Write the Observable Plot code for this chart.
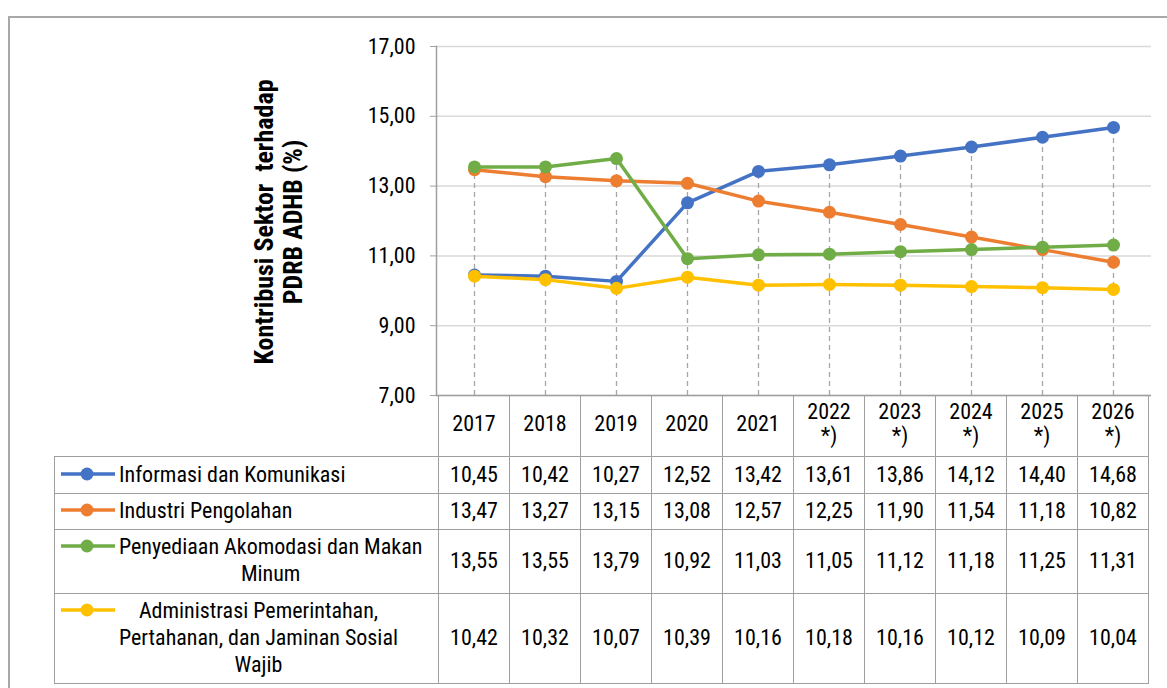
<!DOCTYPE html>
<html><head><meta charset="utf-8">
<script src="https://cdn.jsdelivr.net/npm/d3@7"></script>
<script src="https://cdn.jsdelivr.net/npm/@observablehq/plot@0.6"></script>
<style>
body{margin:0;background:#fff;}
#wrap{position:relative;width:1167px;height:688px;overflow:hidden;background:#fff;
  font-family:"Liberation Sans Narrow","Arial Narrow","Roboto Condensed","Liberation Sans",sans-serif;color:#000;}
#wrap svg.chart{position:absolute;left:0;top:0;}
.ln{position:absolute;background:#9f9f9f;}
.cell{position:absolute;display:flex;align-items:center;justify-content:center;text-align:center;font-size:22px;line-height:24px;}
.leg{position:absolute;font-size:22px;line-height:27px;text-align:center;white-space:nowrap;}
</style></head><body><div id="wrap"></div>
<script>
// ---- data ----
const years = ["2017","2018","2019","2020","2021","2022","2023","2024","2025","2026"];
const yearNotes = ["","","","","","*)","*)","*)","*)","*)"];
const seriesNames = ["Informasi dan Komunikasi","Industri Pengolahan","Penyediaan Akomodasi dan Makan Minum","Administrasi Pemerintahan, Pertahanan, dan Jaminan Sosial Wajib"];
const legendLines = [["Informasi dan Komunikasi"],["Industri Pengolahan"],["Penyediaan Akomodasi dan Makan","Minum"],["Administrasi Pemerintahan,","Pertahanan, dan Jaminan Sosial","Wajib"]];
const seriesColors = ["#4472C4","#ED7D31","#70AD47","#FFC000"];
const informasiKomunikasi = [10.45,10.42,10.27,12.52,13.42,13.61,13.86,14.12,14.40,14.68];
const industriPengolahan = [13.47,13.27,13.15,13.08,12.57,12.25,11.90,11.54,11.18,10.82];
const akomodasiMakanMinum = [13.55,13.55,13.79,10.92,11.03,11.05,11.12,11.18,11.25,11.31];
const administrasiPemerintahan = [10.42,10.32,10.07,10.39,10.16,10.18,10.16,10.12,10.09,10.04];
const yTicks = [7,9,11,13,15,17];
const yTitle = "Kontribusi Sektor\u00a0 terhadap\nPDRB ADHB (%)";

const seriesValues = [informasiKomunikasi, industriPengolahan, akomodasiMakanMinum, administrasiPemerintahan];
const fmt = d => d3.format(".2f")(d).replace(".", ",");

const rows = seriesNames.map((s, i) => years.map((y, j) => ({series: s, year: y, value: seriesValues[i][j]})));
const drops = years.map((y, j) => ({year: y, value: d3.max(seriesValues, v => v[j])}));

const FONT = '"Liberation Sans Narrow","Arial Narrow","Roboto Condensed","Liberation Sans",sans-serif';

const marks = [
  Plot.gridY(yTicks, {stroke: "#d9d9d9", strokeOpacity: 1, strokeWidth: 1.5}),
  Plot.ruleX(drops, {x: "year", y1: 7, y2: "value", stroke: "#a6a6a6", strokeWidth: 1.3, strokeDasharray: "5,4"}),
  Plot.frame({anchor: "left", stroke: "#a0a0a0", strokeWidth: 1.5}),
  Plot.ruleY([7], {stroke: "#a0a0a0", strokeWidth: 1.5}),
  Plot.axisY(yTicks, {tickSize: 6, tickPadding: 15, tickFormat: fmt, stroke: "#a0a0a0", label: null, fontSize: 22}),
  Plot.text([yTitle], {frameAnchor: "left", textAnchor: "middle", lineAnchor: "middle", rotate: -90, dx: -158, dy: 1,
    fontWeight: "bold", fontSize: 26, lineHeight: 1.1, fill: "#000"})
];
rows.forEach((r, i) => {
  marks.push(Plot.line(r, {x: "year", y: "value", stroke: seriesColors[i], strokeWidth: 3.5}));
  marks.push(Plot.dot(r, {x: "year", y: "value", fill: seriesColors[i], r: 6.5}));
});

const plot = Plot.plot({
  width: 1167, height: 396,
  marginTop: 46, marginBottom: 1, marginLeft: 436, marginRight: 16,
  x: {type: "point", domain: years, padding: 0.5, axis: null},
  y: {domain: [7, 17], axis: null},
  style: {fontFamily: FONT, fontSize: "22px", background: "transparent", overflow: "visible", color: "#000"},
  marks
});
plot.classList.add("chart");
const wrap = document.getElementById("wrap");
wrap.appendChild(plot);

// ---- data table under the chart, aligned on the plot's x scale ----
const xs = plot.scale("x");
const step = xs.step !== undefined ? xs.step : (xs.apply(years[1]) - xs.apply(years[0]));
const colLeft = years.map(y => xs.apply(y) - step / 2);
const tableRight = colLeft[colLeft.length - 1] + step;
const tableLeft = colLeft[0];
const legendLeft = 54;
const rowEdges = [395, 456, 493, 529, 593, 683];

function line(x, y, w, h) {
  const d = document.createElement("div");
  d.className = "ln";
  Object.assign(d.style, {left: x + "px", top: y + "px", width: w + "px", height: h + "px"});
  wrap.appendChild(d);
}
rowEdges.forEach((y, k) => {
  const x0 = k === 0 ? tableLeft : legendLeft;
  line(x0, y - 0.5, tableRight - x0, 1.3);
});
colLeft.concat([tableRight]).forEach(x => line(x - 0.5, rowEdges[0], 1.3, rowEdges[5] - rowEdges[0]));
line(legendLeft - 0.5, rowEdges[1], 1.3, rowEdges[5] - rowEdges[1]);

function cell(x, y, w, h, html) {
  const d = document.createElement("div");
  d.className = "cell";
  Object.assign(d.style, {left: x + "px", top: y + "px", width: w + "px", height: h + "px"});
  d.innerHTML = html;
  wrap.appendChild(d);
}
years.forEach((y, j) => {
  cell(colLeft[j], rowEdges[0], step, rowEdges[1] - rowEdges[0] - 3, yearNotes[j] ? y + "<br>" + yearNotes[j] : y);
});
seriesValues.forEach((vals, i) => {
  vals.forEach((v, j) => cell(colLeft[j], rowEdges[i + 1], step, rowEdges[i + 2] - rowEdges[i + 1], fmt(v)));
});
const markerY = [474, 510, 546, 610];
seriesNames.forEach((s, i) => {
  const ns = "http://www.w3.org/2000/svg";
  const svg = document.createElementNS(ns, "svg");
  svg.setAttribute("width", 60); svg.setAttribute("height", 20);
  Object.assign(svg.style, {position: "absolute", left: "58px", top: (markerY[i] - 10) + "px"});
  const l = document.createElementNS(ns, "line");
  l.setAttribute("x1", 3); l.setAttribute("x2", 57); l.setAttribute("y1", 10); l.setAttribute("y2", 10);
  l.setAttribute("stroke", seriesColors[i]); l.setAttribute("stroke-width", 3.5);
  const c = document.createElementNS(ns, "circle");
  c.setAttribute("cx", 29); c.setAttribute("cy", 10); c.setAttribute("r", 6.5); c.setAttribute("fill", seriesColors[i]);
  svg.appendChild(l); svg.appendChild(c);
  wrap.appendChild(svg);
  const t = document.createElement("div");
  t.className = "leg";
  Object.assign(t.style, {left: "119px", top: (markerY[i] - 13.5) + "px"});
  t.innerHTML = legendLines[i].join("<br>");
  wrap.appendChild(t);
});

const bl = document.createElement("div");
Object.assign(bl.style, {position: "absolute", left: "8px", top: "16px", width: "1170px", height: "700px",
  borderLeft: "2px solid #a8a8a8", borderTop: "2px solid #a8a8a8", boxSizing: "border-box", pointerEvents: "none"});
wrap.appendChild(bl);
</script>
</body></html>
